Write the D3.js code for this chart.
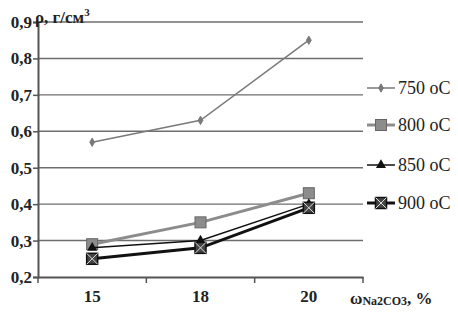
<!DOCTYPE html>
<html>
<head>
<meta charset="utf-8">
<script src="https://cdn.jsdelivr.net/npm/d3@7"></script>
<style>
  body { margin: 0; background: #fff; }
</style>
</head>
<body>
<svg id="chart" width="458" height="318"></svg>
<script>
const categories = ['15', '18', '20'];
const yTicks = [0.2, 0.3, 0.4, 0.5, 0.6, 0.7, 0.8, 0.9];
const seriesNames = ['750 oC', '800 oC', '850 oC', '900 oC'];
const values750 = [0.57, 0.63, 0.85];
const values800 = [0.29, 0.35, 0.43];
const values850 = [0.28, 0.30, 0.40];
const values900 = [0.25, 0.28, 0.39];

const serif = '"Liberation Serif"';
const svg = d3.select('#chart');
const margin = { left: 38, right: 95, top: 22, bottom: 41 };
const width = +svg.attr('width');
const height = +svg.attr('height');

const x = d3.scaleBand().domain(categories).range([margin.left, width - margin.right]);
const y = d3.scaleLinear().domain([0.2, 0.9]).range([height - margin.bottom, margin.top]);

// Series styles
const styles = [
  { values: values750, color: '#7a7a7a', width: 1.5, marker: 'diamond' },
  { values: values800, color: '#8c8c8c', width: 3, marker: 'square' },
  { values: values850, color: '#111', width: 1.5, marker: 'triangle' },
  { values: values900, color: '#111', width: 3, marker: 'xsquare' }
];

// Gridlines
svg.append('g').selectAll('line').data(yTicks.filter(d => d > 0.2))
  .enter().append('line')
    .attr('x1', margin.left).attr('x2', width - margin.right)
    .attr('y1', d => y(d)).attr('y2', d => y(d))
    .attr('stroke', '#6e6e6e').attr('stroke-width', 1.4);

// Y axis
const yAxis = svg.append('g')
  .attr('transform', `translate(${margin.left},0)`)
  .call(d3.axisLeft(y).tickValues(yTicks).tickSize(5)
    .tickFormat(d => d3.format('.1f')(d).replace('.', ',')));
yAxis.select('.domain').attr('stroke', '#555').attr('stroke-width', 2);
yAxis.selectAll('.tick line').attr('stroke', '#555').attr('stroke-width', 1.5);
yAxis.selectAll('.tick text')
  .style('font-family', serif).style('font-size', '17px').style('font-weight', 'bold')
  .attr('fill', '#222').attr('x', -6);

// X axis
const xAxis = svg.append('g')
  .attr('transform', `translate(0,${height - margin.bottom})`)
  .call(d3.axisBottom(x).tickSize(0).tickSizeOuter(0));
xAxis.select('.domain').attr('stroke', '#555').attr('stroke-width', 2);
xAxis.selectAll('.tick text')
  .style('font-family', serif).style('font-size', '17px').style('font-weight', 'bold')
  .attr('fill', '#222').attr('dy', '1.3em');
// ticks at band boundaries
svg.append('g').selectAll('line')
  .data(categories.map(c => x(c)).concat([x.range()[1]]))
  .enter().append('line')
    .attr('x1', d => d).attr('x2', d => d)
    .attr('y1', height - margin.bottom).attr('y2', height - margin.bottom + 6)
    .attr('stroke', '#555').attr('stroke-width', 1.5);

// Axis titles
const yTitle = svg.append('text')
  .attr('x', margin.left - 3).attr('y', margin.top + 1)
  .style('font-family', serif).style('font-size', '17px').style('font-weight', 'bold')
  .attr('fill', '#222');
yTitle.append('tspan').text('ρ, г/см');
yTitle.append('tspan').text('3').style('font-size', '11px').attr('dy', -7);

const xTitle = svg.append('text')
  .attr('x', 350).attr('y', height - 14)
  .style('font-family', serif).style('font-size', '17px').style('font-weight', 'bold')
  .attr('fill', '#222');
xTitle.append('tspan').text('ω');
xTitle.append('tspan').text('Na2CO3').style('font-size', '12px').attr('dy', 1);
xTitle.append('tspan').text(', %').attr('dy', -1);

// Markers
const drawMarker = (g, s, size) => {
  if (s.marker === 'diamond') {
    g.append('path').attr('d', d3.symbol(d3.symbolDiamond, size * 4))
      .attr('fill', s.color).attr('stroke', s.color);
  } else if (s.marker === 'square') {
    g.append('rect').attr('x', -size / 2).attr('y', -size / 2)
      .attr('width', size).attr('height', size)
      .attr('fill', '#8c8c8c').attr('stroke', '#666').attr('stroke-width', 1);
  } else if (s.marker === 'triangle') {
    g.append('path').attr('d', d3.symbol(d3.symbolTriangle, size * 4))
      .attr('fill', s.color);
  } else {
    const h = size / 2;
    g.append('rect').attr('x', -h).attr('y', -h).attr('width', size).attr('height', size)
      .attr('fill', '#444').attr('stroke', '#111').attr('stroke-width', 1.5);
    g.append('path').attr('d', `M${-h},${-h}L${h},${h}M${h},${-h}L${-h},${h}`)
      .attr('stroke', '#ddd').attr('stroke-width', 1);
  }
};

const line = d3.line()
  .x((d, i) => x(categories[i]) + x.bandwidth() / 2)
  .y(d => y(d));

styles.forEach(s => {
  const g = svg.append('g');
  g.append('path').datum(s.values)
    .attr('d', line).attr('fill', 'none')
    .attr('stroke', s.color).attr('stroke-width', s.width);
  s.values.forEach((v, i) => {
    const m = g.append('g')
      .attr('transform', `translate(${x(categories[i]) + x.bandwidth() / 2},${y(v)})`);
    drawMarker(m, s, s.marker === 'diamond' ? 5 : 11);
  });
});

// Legend
const legendY = [88, 125, 165, 203];
styles.forEach((s, i) => {
  const g = svg.append('g').attr('transform', `translate(367,${legendY[i]})`);
  g.append('line').attr('x1', 0).attr('x2', 28)
    .attr('stroke', s.color).attr('stroke-width', s.width);
  const m = g.append('g').attr('transform', 'translate(14,0)');
  drawMarker(m, s, s.marker === 'diamond' ? 5 : 11);
  g.append('text').attr('x', 31).attr('y', 6)
    .style('font-family', serif).style('font-size', '18px')
    .attr('fill', '#222').text(seriesNames[i]);
});
</script>
</body>
</html>
